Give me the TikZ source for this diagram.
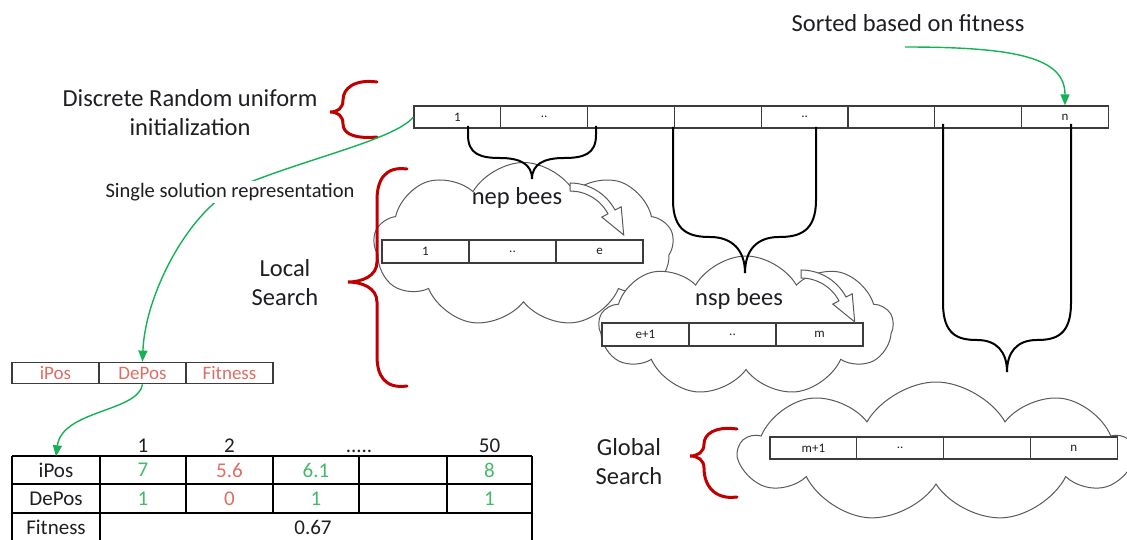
\documentclass[tikz,border=0pt]{standalone}
\usepackage{fontspec}
\setmainfont{Carlito}
\usetikzlibrary{shapes.symbols,arrows.meta}
\definecolor{txtc}{RGB}{30,30,35}
\definecolor{cellc}{RGB}{60,60,60}
\definecolor{cloudc}{RGB}{90,90,90}
\definecolor{bracered}{RGB}{192,0,0}
\definecolor{arrgreen}{RGB}{20,178,85}
\definecolor{valgreen}{RGB}{70,185,105}
\definecolor{valred}{RGB}{222,110,100}
\newcommand\twodt{..}
\newcommand\fivedt{.....}
\tikzset{curvearrow/.pic={
  \path[draw=cloudc,line width=1pt,fill=white,line join=miter]
    plot[domain=0:62,samples=16] ({51*sin(\x)},{-51*cos(\x)})
    -- ({58*sin(62)},{-58*cos(62)}) -- (53.7,0.9) -- ({36*sin(62)},{-36*cos(62)})
    -- plot[domain=62:0,samples=16] ({43*sin(\x)},{-43*cos(\x)}) -- cycle;
}}
\begin{document}
\begin{tikzpicture}[x=1pt,y=-1pt,
  lbl/.style={text=txtc,inner sep=1pt},
  bigtxt/.style={lbl,font=\fontsize{24.5}{29}\selectfont,align=center},
  midtxt/.style={lbl,font=\fontsize{20.5}{23}\selectfont},
  tabtxt/.style={lbl,font=\fontsize{21}{24}\selectfont},
  cellbox/.style={draw=cellc,line width=1.3pt,fill=white,minimum width=86.8pt,minimum height=22pt,inner sep=0pt,font=\fontsize{13}{15}\selectfont,text=txtc},
  cloudsh/.style={cloud,draw=cloudc,line width=1pt,fill=white,cloud puffs=9,cloud puff arc=120,cloud ignores aspect,inner sep=0pt},
  redbrace/.style={draw=bracered,line width=3pt,line cap=round},
  blkbrace/.style={draw=black,line width=2pt},
  garrow/.style={draw=arrgreen,line width=1.4pt,-{Triangle[length=11pt,width=9pt]}},
  tabline/.style={draw=black,line width=1.5pt},
]
\useasboundingbox (0,0) rectangle (1127,540);

% clouds
\node[cloudsh,minimum width=300pt,minimum height=165pt] (nepc) at (523.5,245) {};
\node[cloudsh,minimum width=294pt,minimum height=140pt] (nspc) at (746,326) {};
\node[cloudsh,minimum width=392pt,minimum height=140pt] (glbc) at (936,452) {};

% top array
\foreach \i/\t in {1/1,2/\twodt,3/,4/,5/\twodt,6/,7/,8/n}{
  \node[cellbox] (a\i) at ({457.4+(\i-1)*86.8},117) {\t};
}
% nep array
\foreach \i/\t in {1/1,2/\twodt,3/e}{
  \node[cellbox,minimum width=87pt,minimum height=23pt] (e\i) at ({425.5+(\i-1)*87},251.5) {\t};
}
% nsp array
\foreach \i/\t in {1/e+1,2/\twodt,3/m}{
  \node[cellbox,minimum width=87pt,minimum height=23pt] (n\i) at ({645.5+(\i-1)*87},334.5) {\t};
}
% global array
\foreach \i/\t in {1/m+1,2/\twodt,3/,4/n}{
  \node[cellbox,minimum width=86.8pt,minimum height=22pt] (g\i) at ({813.4+(\i-1)*86.8},448) {\t};
}

% hollow curved arrows
\pic (carr1) at (570,234) {curvearrow};
\pic (carr2) at (801,321) {curvearrow};

% black braces
\draw[blkbrace] (468,126) -- (468,135) .. controls (468,154) and (480,158) .. (500,158)
  .. controls (520,158) and (532,164) .. (532,179);
\draw[blkbrace] (596,126) -- (596,135) .. controls (596,154) and (584,158) .. (564,158)
  .. controls (544,158) and (532,164) .. (532,179);
\draw[blkbrace] (673,127) -- (673,200) .. controls (673,232) and (690,237) .. (710,237)
  .. controls (732,237) and (745,250) .. (745,273);
\draw[blkbrace] (816,127) -- (816,200) .. controls (816,232) and (799,237) .. (779,237)
  .. controls (757,237) and (745,250) .. (745,273);
\draw[blkbrace] (943,124) -- (943,303) .. controls (943,335) and (958,340) .. (977,340)
  .. controls (997,340) and (1007,352) .. (1007,372);
\draw[blkbrace] (1071,124) -- (1071,303) .. controls (1071,335) and (1056,340) .. (1037,340)
  .. controls (1017,340) and (1007,352) .. (1007,372);

% red braces
\draw[redbrace] (377,82) .. controls (355,79) and (343,88) .. (343,100)
  .. controls (343,108) and (338,112) .. (330,112)
  .. controls (338,112) and (343,116) .. (343,124)
  .. controls (343,134) and (355,139) .. (377,137);
\draw[redbrace] (407,169) .. controls (385,166) and (377,180) .. (377,200) -- (377,262)
  .. controls (377,276) and (362,282) .. (348,282)
  .. controls (362,282) and (377,288) .. (377,302) -- (377,356)
  .. controls (377,376) and (385,389) .. (407,386);
\draw[redbrace] (737,429) .. controls (715,426) and (704,434) .. (704,444)
  .. controls (704,452) and (698,456) .. (690,456)
  .. controls (698,456) and (704,460) .. (704,468)
  .. controls (704,486) and (715,500) .. (737,497);

% texts
\node[bigtxt] (sorted) at (908,23) {Sorted based on fitness};
\node[bigtxt] (disc) at (190,113) {Discrete Random uniform\\initialization};
\node[bigtxt] (local) at (285,283) {Local\\Search};
\node[bigtxt] (global) at (629,462) {Global\\Search};
\node[bigtxt] (nep) at (517,198) {nep bees};
\node[bigtxt] (nsp) at (739,299) {nsp bees};

% small array
\foreach \i/\t in {1/iPos,2/DePos,3/Fitness}{
  \node[cellbox,minimum width=87pt,minimum height=21.5pt,font=\fontsize{19}{22}\selectfont,text=valred] (sp\i) at ({55.5+(\i-1)*87},373) {\t};
}

% green connectors
\coordinate (sortstart) at (905,47);
\draw[garrow] (sortstart) .. controls (1018,47) and (1065,58) .. (a8.north);
\draw[garrow] (a1.west) .. controls (395,140) and (300,160) .. (236,188)
  .. controls (188,212) and (145,295) .. (sp2.north);
\node[midtxt,fill=white,inner sep=2pt] (single) at (230,192) {Single solution representation};

% table
\draw[tabline] (12,456) -- (532,456);
\draw[tabline] (12,484) -- (532,484);
\draw[tabline] (12,513) -- (532,513);
\draw[tabline] (12,456) -- (12,542);
\draw[tabline] (100,456) -- (100,542);
\draw[tabline] (532,456) -- (532,542);
\foreach \xx in {186,273,359,447}{ \draw[tabline] (\xx,456) -- (\xx,513); }
\node[tabtxt,minimum width=86pt,minimum height=27pt] (tlab1) at (56,470) {iPos};
\node[tabtxt] (tlab2) at (56,498.5) {DePos};
\node[tabtxt] (tlab3) at (56,527) {Fitness};
\foreach \i/\xx/\t in {1/143/1,2/229.5/2,3/359/\fivedt,4/489.5/50}{
  \node[tabtxt,anchor=base] (hd\i) at (\xx,452) {\t};
}
\foreach \i/\xx/\t/\c in {1/143/7/valgreen,2/229.5/5.6/valred,3/316/6.1/valgreen,4/489.5/8/valgreen}{
  \node[tabtxt,text=\c] (ip\i) at (\xx,470) {\t};
}
\foreach \i/\xx/\t/\c in {1/143/1/valgreen,2/229.5/0/valred,3/316/1/valgreen,4/489.5/1/valgreen}{
  \node[tabtxt,text=\c] (dp\i) at (\xx,498.5) {\t};
}
\node[tabtxt] (fitv) at (313,527) {0.67};

\draw[garrow] (sp2.south) .. controls (138,412) and (62,410) .. (tlab1.north);
\end{tikzpicture}
\end{document}
